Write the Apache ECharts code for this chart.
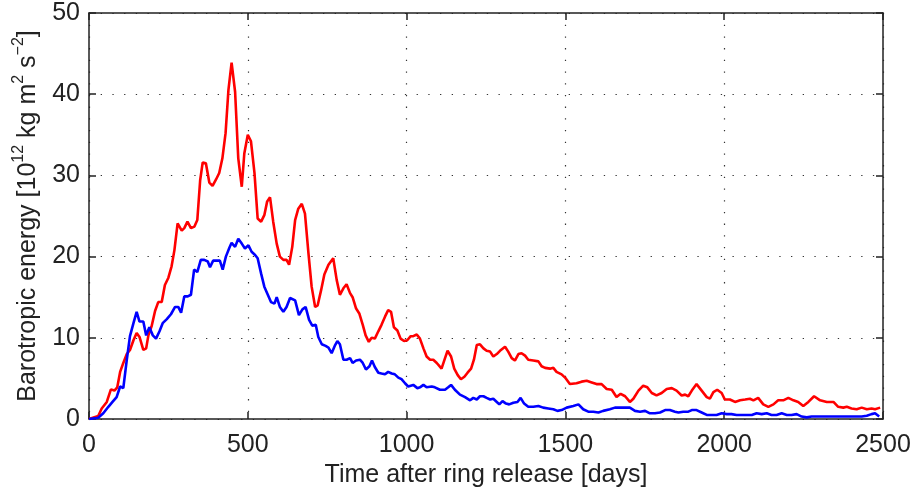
<!DOCTYPE html>
<html>
<head>
<meta charset="utf-8">
<script src="https://cdn.jsdelivr.net/npm/echarts@6/dist/echarts.min.js"></script>
<style>
  html, body { margin: 0; padding: 0; background: #fff; }
  #chart { width: 917px; height: 491px; }
</style>
</head>
<body>
<div id="chart"></div>
<script>
// Axis ticks
const xTicks = [0, 500, 1000, 1500, 2000, 2500];
const yTicks = [0, 10, 20, 30, 40, 50];

// Red curve: time [days] and barotropic energy [10^12 kg m^2 s^-2]
const redDays = [0, 29, 40, 56, 69, 80, 89, 98, 108, 119, 129, 140, 150, 159, 171, 180, 187, 197, 208, 218, 229, 239, 250, 260, 269, 279, 292, 300, 310, 321, 332, 341, 350, 358, 368, 379, 389, 400, 410, 420, 430, 439, 449, 460, 470, 481, 489, 500, 510, 521, 531, 542, 552, 561, 570, 580, 591, 601, 612, 622, 630, 640, 649, 659, 670, 680, 691, 701, 712, 720, 731, 741, 754, 769, 780, 790, 801, 811, 822, 830, 841, 851, 862, 871, 881, 890, 900, 911, 921, 932, 942, 951, 960, 971, 981, 992, 1002, 1013, 1021, 1032, 1042, 1053, 1063, 1074, 1084, 1095, 1110, 1121, 1129, 1140, 1150, 1161, 1171, 1182, 1192, 1203, 1212, 1221, 1231, 1242, 1252, 1263, 1273, 1284, 1294, 1310, 1320, 1331, 1341, 1352, 1362, 1373, 1383, 1399, 1415, 1425, 1436, 1452, 1462, 1472, 1488, 1499, 1514, 1535, 1551, 1567, 1583, 1598, 1614, 1630, 1646, 1661, 1674, 1688, 1703, 1714, 1730, 1745, 1758, 1772, 1787, 1803, 1819, 1835, 1850, 1866, 1877, 1887, 1898, 1913, 1929, 1945, 1955, 1966, 1978, 1992, 2002, 2018, 2034, 2050, 2066, 2081, 2092, 2107, 2123, 2139, 2155, 2170, 2186, 2202, 2218, 2233, 2249, 2265, 2283, 2302, 2323, 2344, 2359, 2375, 2386, 2401, 2417, 2433, 2449, 2464, 2475, 2491];
const redEnergy = [0, 0.37, 1.3, 2.1, 3.65, 3.5, 3.9, 5.8, 6.9, 8.0, 8.5, 9.7, 10.6, 10.1, 8.5, 8.7, 10.3, 11.4, 13.3, 14.4, 14.4, 16.5, 17.4, 18.8, 20.8, 24.1, 23.2, 23.5, 24.3, 23.5, 23.7, 24.5, 29.4, 31.6, 31.5, 29.1, 28.7, 29.5, 30.3, 32.1, 35.2, 40.5, 43.9, 40.3, 32.1, 28.6, 32.7, 35.0, 34.2, 30.3, 24.7, 24.3, 25.1, 26.8, 27.3, 24.3, 21.6, 20.0, 19.6, 19.6, 19.0, 21.2, 24.5, 25.9, 26.5, 25.3, 20.4, 16.3, 13.8, 14.0, 15.9, 17.8, 19.0, 19.8, 17.1, 15.3, 16.1, 16.6, 15.5, 15.0, 13.6, 13.0, 11.6, 10.3, 9.5, 10.0, 9.9, 10.8, 11.6, 12.6, 13.4, 13.2, 11.3, 10.9, 9.9, 9.6, 9.7, 10.2, 10.2, 10.4, 9.9, 8.7, 7.7, 7.3, 7.3, 6.9, 6.2, 7.5, 8.4, 7.7, 6.2, 5.4, 4.9, 5.2, 5.7, 6.2, 7.3, 9.1, 9.2, 8.7, 8.4, 8.3, 7.7, 8.0, 8.4, 8.9, 8.3, 7.5, 7.2, 8.0, 8.1, 7.8, 7.3, 7.2, 7.1, 6.5, 6.3, 6.2, 6.3, 5.8, 5.5, 5.1, 4.3, 4.4, 4.6, 4.7, 4.5, 4.3, 4.3, 3.7, 3.6, 2.7, 3.1, 2.8, 2.1, 2.5, 3.5, 4.1, 3.9, 3.2, 2.9, 3.2, 3.7, 3.8, 3.5, 2.9, 3.0, 2.8, 3.5, 4.3, 3.5, 2.7, 2.5, 3.3, 3.6, 3.2, 2.4, 2.4, 2.1, 2.3, 2.4, 2.5, 2.3, 2.6, 1.8, 1.5, 1.8, 2.3, 2.3, 2.6, 2.3, 2.1, 1.6, 2.1, 2.8, 2.3, 2.1, 2.1, 1.5, 1.4, 1.5, 1.3, 1.2, 1.4, 1.2, 1.3, 1.2, 1.4];

// Blue curve
const blueDays = [0, 29, 45, 61, 74, 87, 98, 108, 119, 129, 140, 150, 159, 171, 180, 190, 201, 211, 222, 232, 245, 258, 271, 281, 290, 300, 311, 321, 331, 341, 352, 363, 374, 381, 391, 402, 412, 421, 431, 442, 449, 460, 470, 481, 491, 502, 512, 523, 531, 542, 552, 563, 573, 584, 591, 601, 612, 622, 633, 649, 661, 672, 682, 693, 703, 714, 722, 733, 745, 754, 764, 775, 782, 790, 801, 811, 822, 830, 841, 853, 862, 872, 883, 891, 900, 911, 921, 932, 942, 953, 963, 974, 984, 995, 1005, 1021, 1034, 1042, 1053, 1063, 1079, 1089, 1105, 1121, 1131, 1140, 1152, 1168, 1184, 1200, 1210, 1221, 1231, 1242, 1252, 1263, 1273, 1284, 1292, 1302, 1313, 1323, 1336, 1349, 1359, 1370, 1383, 1399, 1415, 1430, 1446, 1462, 1475, 1488, 1504, 1525, 1541, 1556, 1572, 1588, 1604, 1619, 1640, 1656, 1672, 1688, 1703, 1719, 1735, 1751, 1766, 1782, 1798, 1814, 1829, 1845, 1856, 1871, 1887, 1898, 1913, 1929, 1945, 1961, 1976, 1992, 2008, 2023, 2039, 2055, 2071, 2087, 2102, 2118, 2134, 2149, 2165, 2181, 2197, 2212, 2228, 2244, 2260, 2275, 2291, 2307, 2323, 2338, 2354, 2370, 2386, 2401, 2417, 2433, 2449, 2464, 2475, 2488];
const blueEnergy = [0, 0.16, 0.7, 1.5, 2.1, 2.7, 4.0, 3.8, 7.3, 10.2, 11.8, 13.2, 12.0, 12.0, 10.3, 11.3, 10.3, 9.9, 10.8, 11.8, 12.3, 12.9, 13.8, 13.8, 13.1, 15.1, 15.1, 15.3, 18.4, 18.1, 19.6, 19.6, 19.4, 18.7, 19.5, 19.5, 19.5, 18.4, 20.0, 21.1, 21.7, 21.2, 22.2, 21.6, 21.0, 21.4, 20.6, 20.2, 19.8, 17.9, 16.3, 15.3, 14.4, 14.2, 15.0, 13.8, 13.2, 13.8, 14.9, 14.6, 12.8, 13.5, 13.8, 12.2, 11.5, 11.6, 10.1, 9.2, 9.0, 8.8, 8.1, 9.1, 9.6, 9.2, 7.3, 7.3, 7.5, 6.9, 7.2, 7.3, 6.9, 6.1, 6.5, 7.2, 6.4, 5.7, 5.6, 5.5, 5.8, 5.6, 5.5, 5.1, 4.9, 4.4, 4.0, 4.2, 3.8, 3.9, 4.2, 3.9, 4.0, 3.9, 3.6, 3.6, 3.9, 4.2, 3.6, 3.0, 2.7, 2.3, 2.6, 2.4, 2.8, 2.8, 2.6, 2.4, 2.5, 2.1, 1.8, 2.2, 1.9, 1.8, 2.0, 2.1, 2.6, 1.9, 1.5, 1.5, 1.6, 1.4, 1.3, 1.2, 1.0, 1.1, 1.4, 1.6, 1.8, 1.2, 0.9, 0.9, 0.8, 1.0, 1.2, 1.4, 1.4, 1.4, 1.4, 1.0, 0.9, 1.0, 0.7, 0.7, 0.8, 1.1, 1.1, 0.9, 0.8, 0.9, 0.9, 1.1, 1.1, 0.8, 0.5, 0.5, 0.5, 0.7, 0.6, 0.6, 0.5, 0.5, 0.5, 0.5, 0.7, 0.6, 0.7, 0.5, 0.5, 0.7, 0.5, 0.5, 0.6, 0.3, 0.2, 0.3, 0.3, 0.3, 0.3, 0.3, 0.3, 0.3, 0.3, 0.3, 0.3, 0.3, 0.4, 0.6, 0.7, 0.3];

const pairs = (xs, ys) => xs.map((x, i) => [x, ys[i]]);

const FONT = 'Liberation Sans, Arial, Helvetica, sans-serif';
const INK = '#222';
const FS = 25;

const gridLine = { show: true, lineStyle: { color: '#333', width: 1.2, type: [1.3, 10.4] } };
const frameLine = { show: true, onZero: false, lineStyle: { color: INK, width: 1.5 } };
const tickIn = { show: true, inside: true, length: 7, lineStyle: { color: INK, width: 1.5 } };
const plain = v => String(v);

const chart = echarts.init(document.getElementById('chart'), null, { renderer: 'canvas' });

chart.setOption({
  animation: false,
  backgroundColor: '#fff',
  grid: { left: 89, right: 34, top: 13, bottom: 72, containLabel: false, outerBoundsMode: 'none' },
  xAxis: [
    {
      type: 'value', min: xTicks[0], max: xTicks[xTicks.length - 1], interval: 500,
      position: 'bottom',
      axisLine: frameLine, axisTick: tickIn, splitLine: gridLine,
      axisLabel: { color: INK, fontSize: FS, fontFamily: FONT, margin: 14, formatter: plain },
      name: 'Time after ring release [days]', nameLocation: 'middle', nameGap: 43,
      nameTextStyle: { color: INK, fontSize: FS, fontFamily: FONT }
    },
    {
      type: 'value', min: xTicks[0], max: xTicks[xTicks.length - 1], interval: 500,
      position: 'top',
      axisLine: frameLine, axisTick: tickIn, splitLine: { show: false },
      axisLabel: { show: false }
    }
  ],
  yAxis: [
    {
      type: 'value', min: yTicks[0], max: yTicks[yTicks.length - 1], interval: 10,
      position: 'left',
      axisLine: frameLine, axisTick: tickIn, splitLine: gridLine,
      axisLabel: { color: INK, fontSize: FS, fontFamily: FONT, margin: 9, formatter: plain },
      name: '{t|Barotropic energy [10}{s|12}{t| kg m}{s|2}{t| s}{s|\u22122}{t|]}',
      nameLocation: 'middle', nameGap: 48, nameRotate: 90,
      nameTextStyle: {
        color: INK, fontFamily: FONT,
        rich: {
          t: { fontSize: FS, fontFamily: FONT, color: INK, lineHeight: 30, verticalAlign: 'bottom' },
          s: { fontSize: 16, fontFamily: FONT, color: INK, lineHeight: 30, verticalAlign: 'top' }
        }
      }
    },
    {
      type: 'value', min: yTicks[0], max: yTicks[yTicks.length - 1], interval: 10,
      position: 'right',
      axisLine: frameLine, axisTick: tickIn, splitLine: { show: false },
      axisLabel: { show: false }
    }
  ],
  series: [
    {
      type: 'line', name: 'red', xAxisIndex: 0, yAxisIndex: 0,
      data: pairs(redDays, redEnergy),
      showSymbol: false, symbol: 'none',
      lineStyle: { color: '#ff0000', width: 2.6 }, z: 3
    },
    {
      type: 'line', name: 'blue', xAxisIndex: 0, yAxisIndex: 0,
      data: pairs(blueDays, blueEnergy),
      showSymbol: false, symbol: 'none',
      lineStyle: { color: '#0000ff', width: 2.6 }, z: 4
    }
  ]
});
</script>
</body>
</html>
